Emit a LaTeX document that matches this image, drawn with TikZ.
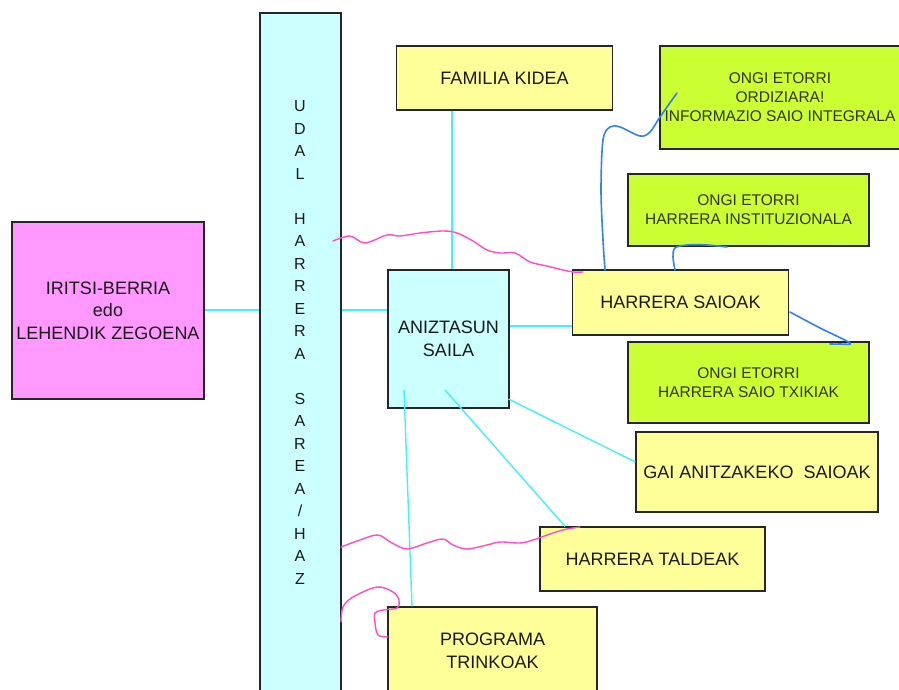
\documentclass[tikz,border=0pt]{standalone}
\usepackage{fontspec}
\setmainfont{Liberation Sans}
\definecolor{magbox}{HTML}{FF99FF}
\definecolor{cyanbox}{HTML}{CCFFFF}
\definecolor{yelbox}{HTML}{FFFF99}
\definecolor{grnbox}{HTML}{CCFF33}
\definecolor{cyanline}{HTML}{40F0FF}
\definecolor{pinkline}{HTML}{FF4CCC}
\definecolor{blueline}{HTML}{3380F0}
\definecolor{olivetext}{HTML}{333311}
\begin{document}
\begin{tikzpicture}[x=1pt,y=-1pt,
  box/.style={draw=black!85, line width=1.4pt, align=center, inner sep=0pt,
    font=\fontsize{18}{22.5}\selectfont, text=black!90},
  gbox/.style={box, fill=grnbox, font=\fontsize{15.5}{19}\selectfont, text=olivetext},
  link/.style={draw=cyanline, line width=1.4pt},
  pinkpen/.style={draw=pinkline, line width=1.4pt, line cap=round, line join=round},
  bluepen/.style={draw=blueline, line width=1.6pt, line cap=round, line join=round}]
\useasboundingbox (0,0) rectangle (899,690);
\clip (0,0) rectangle (899,690);
\fill[white] (0,0) rectangle (899,690);

% boxes
\node[box, fill=magbox, minimum width=192pt, minimum height=177pt] (iritsi) at (108,310.5)
  {IRITSI-BERRIA\\edo\\LEHENDIK ZEGOENA};
\node[box, fill=cyanbox, minimum width=81pt, minimum height=700pt] (bar) at (300.5,363) {};
\node[font=\fontsize{16}{22.5}\selectfont, align=center, inner sep=0pt, text=black!90] (bartext) at (300,342.5)
  {U\\D\\A\\L\\[22.5pt]H\\A\\R\\R\\E\\R\\A\\[22.5pt]S\\A\\R\\E\\A\\/\\H\\A\\Z};
\node[box, fill=yelbox, minimum width=216pt, minimum height=64pt] (fam) at (504.5,78) {FAMILIA KIDEA};
\node[gbox, minimum width=240pt, minimum height=103pt] (ordi) at (780,97.5)
  {ONGI ETORRI\\ORDIZIARA!\\INFORMAZIO SAIO INTEGRALA};
\node[gbox, minimum width=241pt, minimum height=72pt] (inst) at (748.5,210)
  {ONGI ETORRI\\HARRERA INSTITUZIONALA};
\node[gbox, minimum width=241pt, minimum height=81pt] (txiki) at (748.5,382.5)
  {ONGI ETORRI\\HARRERA SAIO TXIKIAK};
\node[box, fill=yelbox, minimum width=216pt, minimum height=65pt] (saioak) at (680.5,302.5) {HARRERA SAIOAK};
\node[box, fill=cyanbox, minimum width=121pt, minimum height=138pt] (anz) at (448.5,339)
  {ANIZTASUN\\SAILA};
\node[box, fill=yelbox, minimum width=242pt, minimum height=80pt] (gai) at (757,472)
  {GAI ANITZAKEKO\ \ SAIOAK};
\node[box, fill=yelbox, minimum width=225pt, minimum height=64pt] (taldeak) at (652.5,559) {HARRERA TALDEAK};
\node[box, fill=yelbox, minimum width=209pt, minimum height=88pt] (prog) at (492.5,651)
  {PROGRAMA\\TRINKOAK};

% connectors
\coordinate (c1) at (508.5,399);
\coordinate (c2) at (445,390);
\coordinate (c3) at (404,390);
\draw[link] (iritsi.east |- 0,310) -- (bar.west |- 0,310);
\draw[link] (bar.east |- 0,310) -- (anz.west |- 0,310);
\draw[link] (fam.south -| 452,0) -- (anz.north -| 452,0);
\draw[link] (anz.east |- 0,326) -- (saioak.west |- 0,326);
\draw[link] (c1) -- (gai.west |- 0,462);
\draw[link] (c2) -- (taldeak.north -| 565,0);
\draw[link] (c3) -- (prog.north -| 412,0);

% pink scribbles
\draw[pinkpen] plot[smooth, tension=0.55] coordinates {(333,241) (350,236) (365,243) (387,235) (400,236) (420,233) (443,231) (457,233) (473,241) (487,250) (500,253) (515,253) (530,262) (547,266) (563,270) (573,272) (583,272)};
\draw[pinkpen] plot[smooth, tension=0.55] coordinates {(341,547) (360,540) (378,535) (392,543) (407,549) (427,543) (443,539) (453,545) (467,549) (487,545) (500,542) (520,543) (533,540) (553,533) (567,529) (580,527)};
\draw[pinkpen] plot[smooth, tension=0.55] coordinates {(341,622) (343,607) (353,597) (377,587) (393,592) (399,600) (397,608) (383,610) (375,613) (375,623) (378,635) (388,637)};

% blue scribbles
\draw[bluepen] plot[smooth, tension=0.55] coordinates {(605,270) (603,240) (601,190) (603,140) (610,127) (620,127) (640,136) (650,132) (660,117) (677,93)};
\draw[bluepen] plot[smooth, tension=0.55] coordinates {(675,270) (673,257) (675,248) (687,245) (707,245) (727,247)};
\draw[bluepen] plot[smooth, tension=0.55] coordinates {(790,312) (820,328) (850,343) (840,344) (830,344)};
\end{tikzpicture}
\end{document}
